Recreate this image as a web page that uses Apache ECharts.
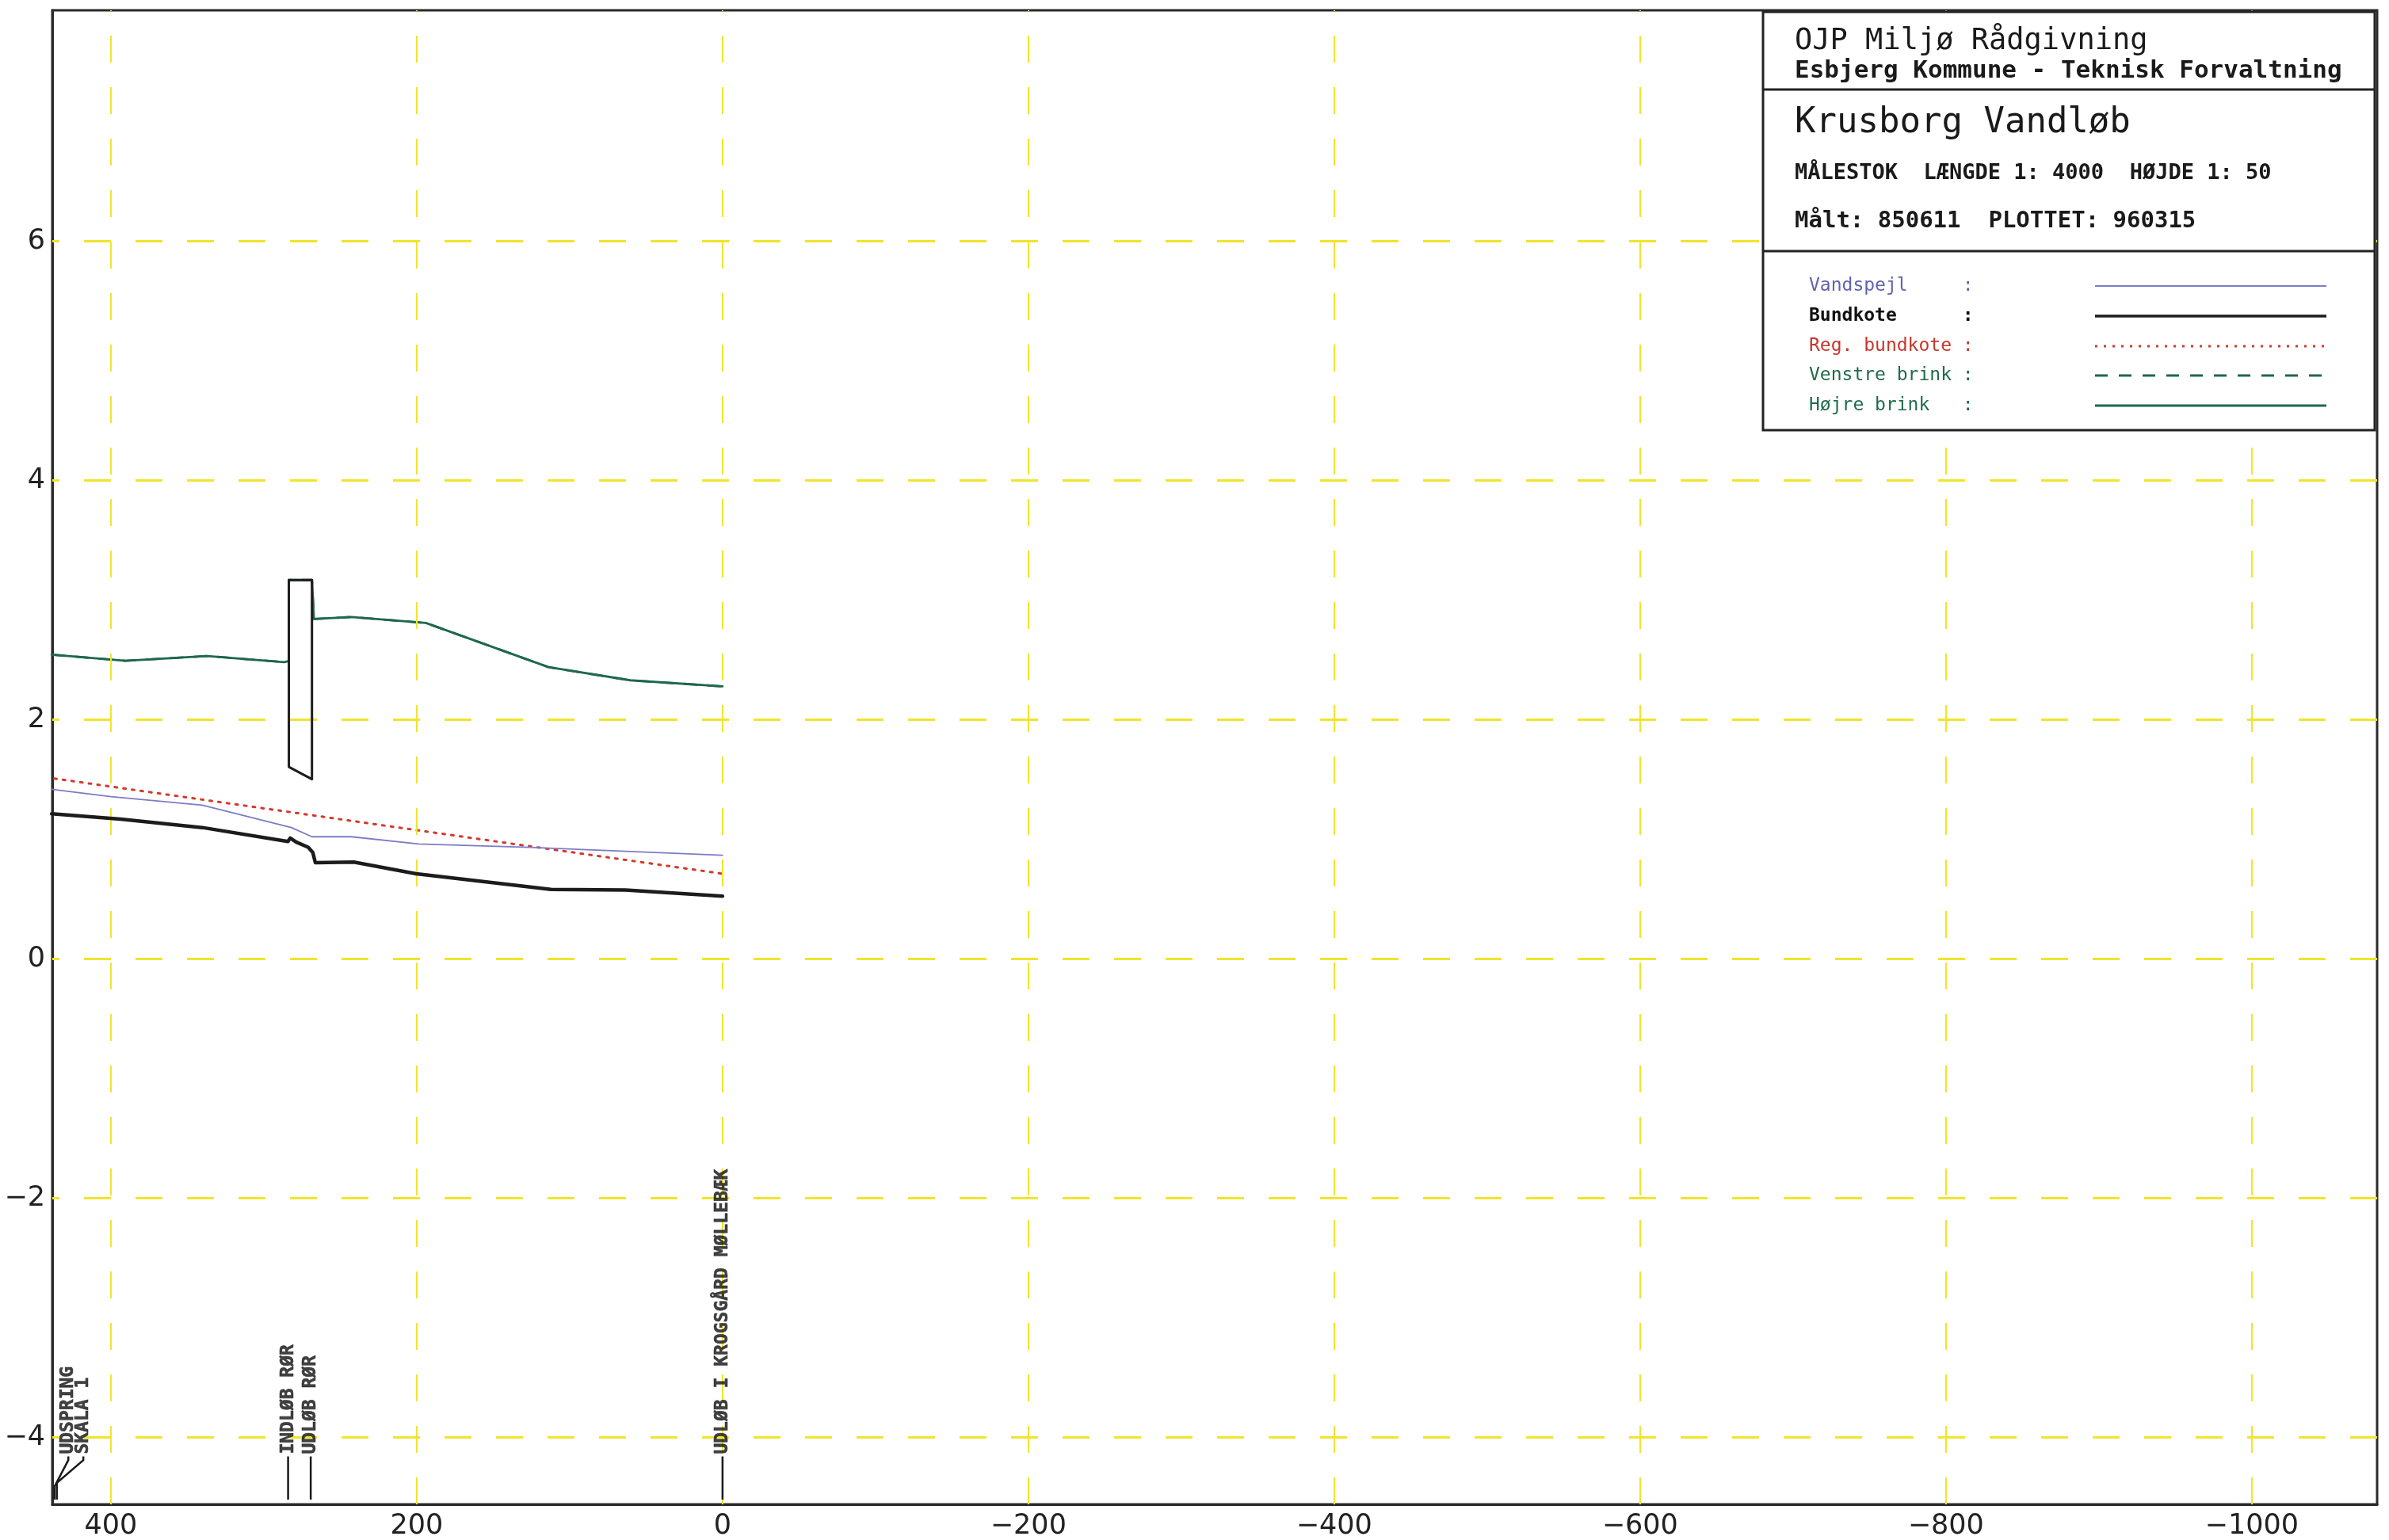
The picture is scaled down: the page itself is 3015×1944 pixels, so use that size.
<!DOCTYPE html>
<html><head><meta charset="utf-8">
<script src="https://cdn.jsdelivr.net/npm/echarts@6/dist/echarts.min.js"></script>
<style>html,body{margin:0;padding:0;background:#fff;}#c{width:3015px;height:1944px;}</style>
</head><body><div id="c"></div>
<script>
// ---- axis extents and ticks ----
const xMin = -1082, xMax = 438.3;
const yMin = -4.56, yMax = 7.93;
const xTicks = [400, 200, 0, -200, -400, -600, -800, -1000];
const yTicks = [-4, -2, 0, 2, 4, 6];

// ---- series values (station m, kote m) ----
const vandX = [438.7, 400, 340.2, 282.0, 268.5, 242.7, 198.7, 126.3, 0];
const vandY = [1.418, 1.356, 1.285, 1.098, 1.021, 1.021, 0.961, 0.932, 0.866];

const bundX = [438.7, 393.7, 340.2, 284.2, 282.7, 278.9, 271.0, 267.9, 266.3, 241.1, 200.3, 112.2, 63.5, 0];
const bundY = [1.213, 1.168, 1.098, 0.981, 1.010, 0.977, 0.933, 0.888, 0.805, 0.809, 0.712, 0.580, 0.575, 0.524];

const regX = [437.0, 0];
const regY = [1.508, 0.712];

const brinkX = [438.7, 390.5, 337.1, 286.7, 283.6, 283.6, 268.5, 267.2, 242.7, 194.0, 113.8, 60.3, 0];
const brinkY = [2.543, 2.492, 2.532, 2.481, 2.490, 3.167, 3.167, 2.841, 2.858, 2.808, 2.439, 2.329, 2.278];

// pipe / culvert outline
const pipeX = [283.6, 283.6, 268.5, 268.5, 283.6];
const pipeY = [3.167, 1.605, 1.502, 3.167, 3.167];

// station markers along the bottom
const markerNames = ['UDSPRING', 'SKALA 1', 'INDLØB RØR', 'UDLØB RØR', 'UDLØB I KROGSGÅRD MØLLEBÆK'];
const markerPathX = [[436.8, 436.8, 427.8, 427.8], [435.3, 435.3, 418.0, 418.0], [284.1, 284.1], [269.3, 269.3], [0, 0]];
const markerPathY = [[-4.52, -4.41, -4.19, -4.16], [-4.52, -4.38, -4.19, -4.16], [-4.52, -4.16], [-4.52, -4.16], [-4.52, -4.16]];
const markerLabelY = [-4.14, -4.14, -4.14, -4.14, -4.14];

// ---- legend / title texts ----
const legendNames = ['Vandspejl', 'Bundkote', 'Reg. bundkote', 'Venstre brink', 'Højre brink'];
const titleLines = ['OJP Miljø Rådgivning', 'Esbjerg Kommune - Teknisk Forvaltning', 'Krusborg Vandløb',
  'MÅLESTOK  LÆNGDE 1: 4000  HØJDE 1: 50', 'Målt: 850611  PLOTTET: 960315'];

// ---- styles ----
const C_VAND = '#7c7cc6', C_BUND = '#1c1c1c', C_REG = '#d23a2e', C_GREEN = '#1f6849', C_GRID = '#f1e42c';
const styles = [
  { color: C_VAND, width: 1.8, type: 'solid', text: '#6262b0', weight: 'normal' },
  { color: C_BUND, width: 4.5, type: 'solid', text: '#111111', weight: 'bold' },
  { color: C_REG, width: 3, type: [3, 8], text: '#c8352b', weight: 'normal' },
  { color: C_GREEN, width: 2.8, type: [16, 14], text: '#1f6b4a', weight: 'normal' },
  { color: C_GREEN, width: 2.8, type: 'solid', text: '#1f6b4a', weight: 'normal' }
];

const zip = (xs, ys) => xs.map((x, i) => [x, ys[i]]);
const minus = v => String(v).replace('-', '\u2212');
const MONO = '"DejaVu Sans Mono", monospace';

const lineSeries = (name, data, st, z) => ({
  name, type: 'line', data, symbol: 'none', z: z || 3, animation: false,
  lineStyle: { color: st.color, width: st.width, type: st.type, cap: 'round', join: 'round' }
});

// ---- title box + legend graphics ----
const BX = 2225, BY = 15, BW = 772, BH = 528;
const graphics = [
  { type: 'rect', z: 50, shape: { x: BX, y: BY, width: BW, height: BH }, style: { fill: '#fff', stroke: '#222', lineWidth: 3 } },
  { type: 'line', z: 51, shape: { x1: BX, y1: 113, x2: BX + BW, y2: 113 }, style: { stroke: '#222', lineWidth: 3 } },
  { type: 'line', z: 51, shape: { x1: BX, y1: 317, x2: BX + BW, y2: 317 }, style: { stroke: '#222', lineWidth: 3 } }
];
const titleFonts = ['37px', 'bold 31px', '44px', 'bold 27px', 'bold 29px'];
const titleY = [52, 90, 156, 219, 279];
titleLines.forEach((t, i) => graphics.push({
  type: 'text', z: 52, x: 2265, y: titleY[i],
  style: { text: t, font: titleFonts[i] + ' ' + MONO, fill: '#1a1a1a', textVerticalAlign: 'middle', verticalAlign: 'middle' }
}));
const legY = [361, 399, 437, 474, 512];
legendNames.forEach((n, i) => {
  const st = styles[i];
  graphics.push({
    type: 'text', z: 52, x: 2283, y: legY[i],
    style: { text: n.padEnd(14, ' ') + ':', font: st.weight + ' 23px ' + MONO, fill: st.text, verticalAlign: 'middle', textVerticalAlign: 'middle' }
  });
  graphics.push({
    type: 'line', z: 52, shape: { x1: 2644, y1: legY[i], x2: 2936, y2: legY[i] },
    style: { stroke: st.color, lineWidth: Math.min(st.width, 3.5), lineDash: Array.isArray(st.type) ? st.type : null, lineCap: 'butt' }
  });
});

const gridMarks = [
  ...xTicks.map(v => ({ xAxis: v, lineStyle: { width: 2 } })),
  ...yTicks.map(v => ({ yAxis: v, lineStyle: { width: 3 } }))
];

const option = {
  backgroundColor: '#ffffff',
  animation: false,
  grid: { left: 66, right: 15, top: 13, bottom: 44, show: true, borderColor: '#2a2a2a', borderWidth: 3, backgroundColor: 'transparent' },
  xAxis: {
    type: 'value', min: xMin, max: xMax, inverse: true,
    axisLine: { show: true, onZero: false, lineStyle: { color: '#2a2a2a', width: 3 } },
    axisTick: { show: false }, splitLine: { show: false },
    axisLabel: { customValues: xTicks, formatter: minus, fontSize: 35, fontFamily: '"DejaVu Sans", sans-serif', color: '#222', margin: 10 }
  },
  yAxis: {
    type: 'value', min: yMin, max: yMax,
    axisLine: { show: true, onZero: false, lineStyle: { color: '#2a2a2a', width: 3 } },
    axisTick: { show: false }, splitLine: { show: false },
    axisLabel: { customValues: yTicks, formatter: minus, fontSize: 35, fontFamily: '"DejaVu Sans", sans-serif', color: '#222', margin: 9 }
  },
  graphic: graphics,
  series: [
    {
      name: 'grid', type: 'line', data: [], z: 1, silent: true,
      markLine: {
        silent: true, symbol: ['none', 'none'], label: { show: false }, animation: false,
        lineStyle: { color: C_GRID, type: [34, 31], width: 2.5 },
        data: gridMarks
      }
    },
    lineSeries(legendNames[3], zip(brinkX, brinkY), styles[3], 3),
    lineSeries(legendNames[4], zip(brinkX, brinkY), styles[4], 4),
    lineSeries('pipe', zip(pipeX, pipeY), { color: '#1c1c1c', width: 3, type: 'solid' }, 5),
    lineSeries(legendNames[2], zip(regX, regY), styles[2], 4),
    lineSeries(legendNames[0], zip(vandX, vandY), styles[0], 5),
    lineSeries(legendNames[1], zip(bundX, bundY), styles[1], 6),
    {
      name: 'markers', type: 'lines', coordinateSystem: 'cartesian2d', polyline: true, z: 6, silent: true,
      lineStyle: { color: '#1a1a1a', width: 2.5, opacity: 1 },
      data: markerPathX.map((xs, i) => ({ coords: zip(xs, markerPathY[i]) }))
    },
    {
      name: 'markerLabels', type: 'scatter', symbolSize: 0, z: 7, silent: true,
      data: markerNames.map((n, i) => [markerPathX[i][markerPathX[i].length - 1], markerLabelY[i], n]),
      label: {
        show: true, position: 'inside', rotate: 90, align: 'left', verticalAlign: 'middle',
        formatter: p => p.value[2], fontFamily: MONO, fontWeight: 'bold', fontSize: 23, color: '#111',
        textBorderColor: '#111', textBorderWidth: 0.6
      }
    }
  ]
};
const chart = echarts.init(document.getElementById('c'), null, { renderer: 'canvas' });
chart.setOption(option);
</script></body></html>
